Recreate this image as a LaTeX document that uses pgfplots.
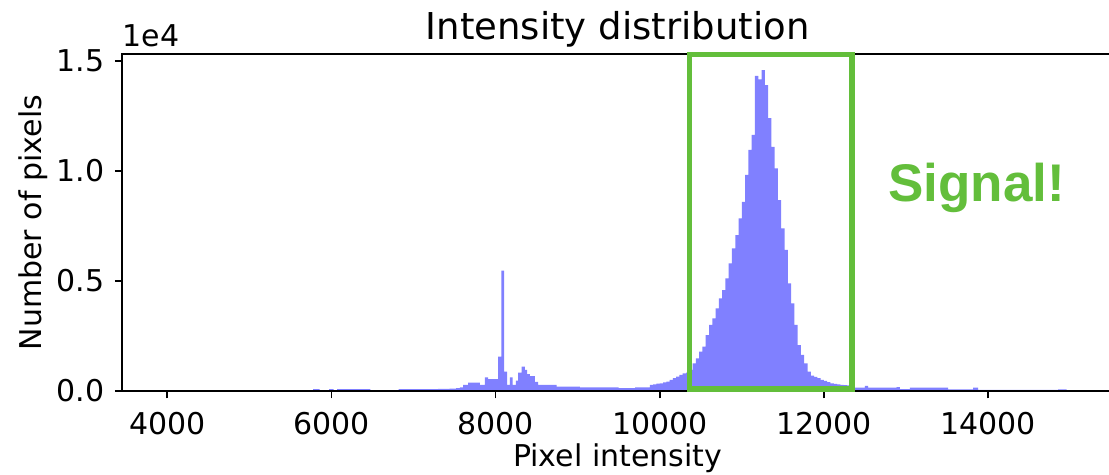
\documentclass[border=0pt]{standalone}
\usepackage{fontspec}
\setmainfont{DejaVu Sans}
\newfontfamily\signalfont{Liberation Sans}
\usepackage{pgfplots}
\pgfplotsset{compat=1.18}
\definecolor{barblue}{RGB}{128,128,255}
\definecolor{sigGreen}{RGB}{99,190,59}
\begin{document}
\begin{tikzpicture}
\path[use as bounding box] (-61.15pt,-42pt) rectangle (493.35pt,195.5pt);
\clip (-61.15pt,-42pt) rectangle (493.35pt,195.5pt);
\begin{axis}[
  at={(0,0)}, anchor=south west,
  scale only axis, width=495.35pt, height=168.35pt,
  xmin=3452, xmax=15522, ymin=0, ymax=15305,
  clip=false, axis on top,
  scaled ticks=false,
  xtick={4000,6000,8000,10000,12000,14000},
  xticklabels={4000,6000,8000,10000,12000,14000},
  ytick={0,5000,10000,15000},
  yticklabels={0.0,0.5,1.0,1.5},
  tick pos=left, tick align=outside,
  major tick length=3.65pt,
  every tick/.style={black, line width=0.83pt},
  axis line style={line width=0.83pt},
  ticklabel style={font=\fontsize{15}{18}\selectfont},
  xticklabel style={inner sep=0pt, yshift=-6.85pt},
  yticklabel style={inner sep=0pt, xshift=-5.15pt},
  /pgf/number format/assume math mode=true,
  every axis title shift=0pt,
  title={Intensity distribution},
  title style={at={(axis description cs:0.5,1.0425)}, anchor=base, font=\fontsize{18.5}{22}\selectfont, inner sep=0pt},
  xlabel={Pixel intensity},
  xlabel style={at={(axis description cs:0.5,-0.2257)}, anchor=base, font=\fontsize{15}{18}\selectfont, inner sep=0pt},
  ylabel={Number of pixels},
  ylabel style={at={(axis description cs:-0.08136,0.5)}, anchor=base, font=\fontsize{15}{18}\selectfont, inner sep=0pt},
]
\addplot[ybar interval, fill=barblue, draw=none] coordinates {
(5776,90) (5856,0) (5971,90) (6028,0) (6068,90) (6475,0) (6820,80) (7300,100) (7440,110) (7520,130)
(7565,167) (7605,273) (7666,380) (7809,273) (7870,620) (7910,545) (8032,1560) (8070,5470) (8104,880)
(8141,273) (8174,620) (8207,273) (8247,470) (8275,830) (8317,1110) (8357,955) (8385,770) (8418,680)
(8479,420) (8519,273) (8743,200) (9027,160) (9500,125) (9700,170)
(9880,275) (9920,300) (9960,340) (10000,350) (10040,395) (10080,425) (10120,500) (10160,580)
(10200,650) (10240,730) (10280,800) (10320,835) (10360,955) (10400,1258) (10440,1485) (10480,1788)
(10520,2015) (10560,2545) (10600,3000) (10640,3300) (10680,3760) (10720,4210) (10760,4590)
(10800,5120) (10840,5800) (10880,6480) (10920,7090) (10960,7850) (11000,8600) (11040,9820)
(11080,10955) (11120,11640) (11160,14320) (11200,14170) (11240,14590) (11280,13900) (11320,12400)
(11360,11100) (11400,10120) (11440,8680) (11480,7390) (11520,6410) (11560,4890) (11600,3980)
(11640,3000) (11680,2090) (11720,1640) (11760,1260) (11800,880) (11840,700) (11880,640)
(11920,590) (11960,500) (12000,455) (12040,400) (12080,350) (12120,320) (12160,300) (12200,280)
(12240,270) (12280,250) (12320,230) (12378,150) (12500,230) (12540,150) (12885,180) (12926,80)
(13047,150) (13514,70) (13818,150) (13880,55) (14854,75) (14956,0)
};
\coordinate (boxbl) at (axis cs:10365,90);
\coordinate (boxtr) at (axis cs:12341,15295);
\coordinate (sig) at (axis cs:13862,8605);
\node[anchor=base west, inner sep=0pt, yshift=3.8pt, font=\fontsize{15}{18}\selectfont] at (axis description cs:0,1) {1e4};
\end{axis}
\draw[sigGreen, line width=2.75pt] (boxbl) rectangle (boxtr);
\node[anchor=base, inner sep=0pt, text=sigGreen, font=\signalfont\bfseries\fontsize{26.5}{30}\selectfont] at (sig) {Signal!};
\end{tikzpicture}
\end{document}
